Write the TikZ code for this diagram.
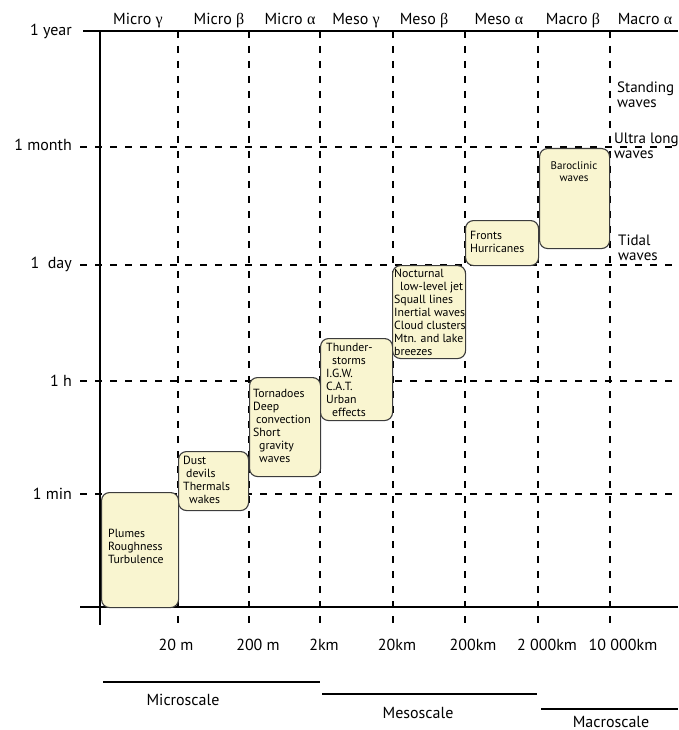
\documentclass[tikz,border=0pt]{standalone}
\usepackage{fontspec}
\setmainfont{PT Sans}
\newfontfamily\grk{Liberation Serif}
\definecolor{boxfill}{HTML}{F9F5D0}
\definecolor{boxline}{HTML}{3C3C3C}
\tikzset{
  axisline/.style={line width=1.8pt, black},
  gridline/.style={line width=1.4pt, black, dash pattern=on 7pt off 8pt},
  scaleline/.style={line width=1.5pt, black},
  bx/.style={draw=boxline, fill=boxfill, line width=1.1pt, rounded corners=8pt, inner sep=0pt, anchor=north west},
  bxtxt/.style={font=\fontsize{11.8}{13}\selectfont, align=left, inner sep=0pt, anchor=west},
  lbl/.style={font=\fontsize{16}{16}\selectfont, inner sep=0pt, anchor=base},
  ylbl/.style={font=\fontsize{16}{16}\selectfont, inner sep=0pt, anchor=base east},
  rlbl/.style={font=\fontsize{15}{15}\selectfont, inner sep=0pt, anchor=base west},
}
\begin{document}
\begin{tikzpicture}[x=1pt,y=-1pt]
\useasboundingbox (0,0) rectangle (678,730);
% coordinates
\foreach \n/\x in {c1/178,c2/249,c3/320,c4/393,c5/465,c6/538,c7/610}{
  \coordinate (\n t) at (\x,31);
  \coordinate (\n b) at (\x,625);
}
\foreach \n/\y in {r1/147,r2/265,r3/381,r4/494}{
  \coordinate (\n l) at (80,\y);
  \coordinate (\n r) at (678,\y);
}
% grid
\foreach \n in {c1,c2,c3,c4,c5,c6,c7}{ \draw[gridline] (\n t) -- (\n b); }
\foreach \n in {r1,r2,r3,r4}{ \draw[gridline] (\n l) -- (\n r); }
% axes
\coordinate (topl) at (83,31);
\coordinate (topr) at (678,31);
\coordinate (botl) at (80,607);
\coordinate (botr) at (678,607);
\coordinate (axt) at (100,31);
\coordinate (axb) at (100,625);
\draw[axisline] (topl) -- (topr);
\draw[axisline] (botl) -- (botr);
\draw[axisline] (axt) -- (axb);
% header labels
\node[lbl] (h1) at (138,25) {Micro {\grk γ}};
\node[lbl] (h2) at (219,25) {Micro {\grk β}};
\node[lbl] (h3) at (290,25) {Micro {\grk α}};
\node[lbl] (h4) at (356,25) {Meso {\grk γ}};
\node[lbl] (h5) at (424,25) {Meso {\grk β}};
\node[lbl] (h6) at (499,25) {Meso {\grk α}};
\node[lbl] (h7) at (573,25) {Macro {\grk β}};
\node[lbl] (h8) at (645,25) {Macro {\grk α}};
% y labels
\node[ylbl] (y1) at (72,36) {1 year};
\node[ylbl] (y2) at (72,151) {1 month};
\node[ylbl] (y3) at (72,268) {1\ \ day};
\node[ylbl] (y4) at (72,386) {1 h};
\node[ylbl] (y5) at (72,499) {1 min};
% x labels
\node[lbl] (x1) at (176,650) {20 m};
\node[lbl] (x2) at (258,650) {200 m};
\node[lbl] (x3) at (324,650) {2km};
\node[lbl] (x4) at (397,650) {20km};
\node[lbl] (x5) at (473,650) {200km};
\node[lbl] (x6) at (547,650) {2 000km};
\node[lbl] (x7) at (623,650) {10 000km};
% scale bars
\coordinate (mi1) at (103,682); \coordinate (mi2) at (320,682);
\coordinate (me1) at (322,694); \coordinate (me2) at (537,694);
\coordinate (ma1) at (541,709); \coordinate (ma2) at (678,709);
\draw[scaleline] (mi1) -- (mi2);
\draw[scaleline] (me1) -- (me2);
\draw[scaleline] (ma1) -- (ma2);
\node[lbl] (s1) at (183,705) {Microscale};
\node[lbl] (s2) at (418,718) {Mesoscale};
\node[lbl] (s3) at (611,727) {Macroscale};
% right labels
\node[rlbl] (w1a) at (617,93) {Standing};
\node[rlbl] (w1b) at (617,108) {waves};
\node[rlbl] (w2a) at (614,144) {Ultra long};
\node[rlbl] (w2b) at (614,159) {waves};
\node[rlbl] (w3a) at (618,245) {Tidal};
\node[rlbl] (w3b) at (618,260) {waves};
% boxes
\node[bx, minimum width=77pt, minimum height=115pt] (b1) at (101,492) {};
\node[bx, minimum width=70pt, minimum height=59pt] (b2) at (178,451) {};
\node[bx, minimum width=71pt, minimum height=99pt] (b3) at (249,377) {};
\node[bx, minimum width=72pt, minimum height=82pt] (b4) at (320,338) {};
\node[bx, minimum width=73pt, minimum height=93pt] (b5) at (392,265) {};
\node[bx, minimum width=73pt, minimum height=45pt] (b6) at (465,220) {};
\node[bx, minimum width=70pt, minimum height=100pt] (b7) at (539,148) {};
% box texts
\node[bxtxt] (t1) at (108,546) {Plumes\\Roughness\\Turbulence};
\node[bxtxt] (t2) at (183,480) {Dust\\\hspace*{3pt}devils\\Thermals\\\hspace*{6pt}wakes};
\node[bxtxt] (t3) at (253,426) {Tornadoes\\Deep\\\hspace*{3pt}convection\\Short\\\hspace*{6pt}gravity\\\hspace*{6pt}waves};
\node[bxtxt] (t4) at (326,380) {Thunder-\\\hspace*{6pt}storms\\I.G.W.\\C.A.T.\\Urban\\\hspace*{6pt}effects};
\node[bxtxt] (t5) at (394,312) {Nocturnal\\\hspace*{6pt}low-level jet\\Squall lines\\Inertial waves\\Cloud clusters\\Mtn. and lake\\breezes};
\node[bxtxt] (t6) at (470,242) {Fronts\\Hurricanes};
\node[font=\fontsize{11}{12}\selectfont, align=center, inner sep=0pt, anchor=north] (t7) at (574,162) {Baroclinic\\waves};
\end{tikzpicture}
\end{document}
